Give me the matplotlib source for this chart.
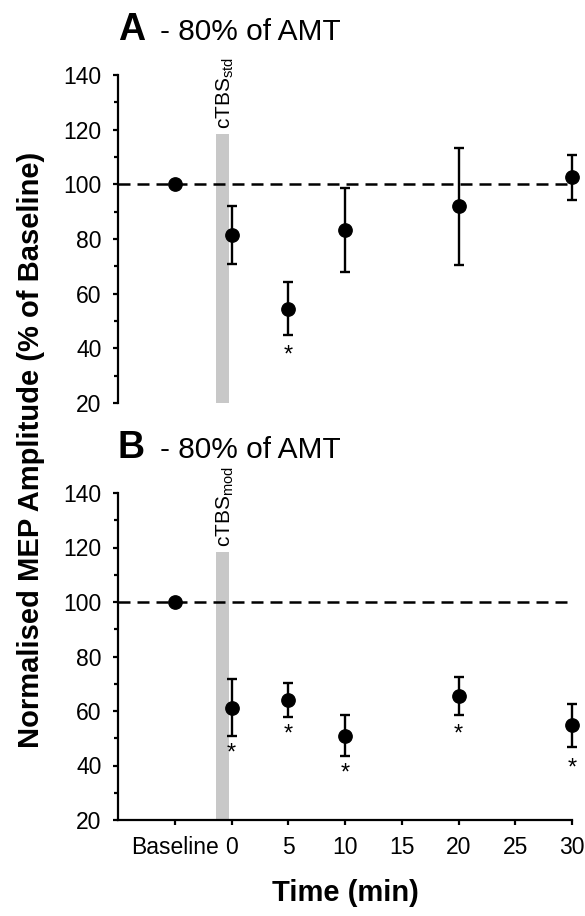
import matplotlib
matplotlib.use("Agg")
import matplotlib.pyplot as plt

plt.rcParams['font.family'] = ['Liberation Sans', 'DejaVu Sans']

# time points (baseline drawn at -5 on the time axis)
times = [-5, 0, 5, 10, 20, 30]
tick_pos = [-5, 0, 5, 10, 15, 20, 25, 30]
tick_labels = ['Baseline', '0', '5', '10', '15', '20', '25', '30']

# panel A - cTBS std
a_mean = [100, 81.5, 54.5, 83.4, 92.0, 102.6]
a_err = [0, 10.5, 9.8, 15.3, 21.4, 8.3]
a_star_t = [5]
a_star_y = [37.3]

# panel B - cTBS mod
b_mean = [100, 61.2, 64.1, 51.0, 65.6, 54.7]
b_err = [0, 10.5, 6.3, 7.6, 6.9, 8.0]
b_star_t = [0, 5, 10, 20, 30]
b_star_y = [44.3, 51.4, 37.2, 51.4, 38.8]

bar_left, bar_right, bar_top = -1.4, -0.2, 118.5

W, H = 585, 916


def draw_panel(ax, mean, err, star_t, star_y, letter, cond, show_x):
    ax.bar((bar_left + bar_right) / 2, bar_top - 20, bottom=20,
           width=bar_right - bar_left, color='#c8c8c8', zorder=1)
    ax.plot([-10, 30], [100, 100], color='black', lw=1.8,
            dashes=(4.8, 2.8), zorder=2)
    ax.errorbar(times, mean, yerr=err, fmt='o', color='black', ms=9.6,
                elinewidth=1.7, capsize=3.8, capthick=1.7, zorder=3,
                clip_on=False)
    for t, y in zip(star_t, star_y):
        ax.text(t, y, '*', ha='center', va='center', fontsize=17)

    ax.text(-0.5, 120.3, r'$\mathregular{cTBS_{' + cond + '}}$',
            rotation=90, ha='center', va='bottom', fontsize=15)

    ax.set_xlim(-10, 30)
    ax.set_ylim(20, 140)
    ax.set_yticks(range(20, 141, 20))
    ax.set_yticks(range(30, 140, 20), minor=True)
    ax.spines['top'].set_visible(False)
    ax.spines['right'].set_visible(False)
    ax.spines['left'].set_linewidth(1.6)
    ax.tick_params(axis='y', which='major', length=3.8, width=1.6,
                   labelsize=16.5, pad=8)
    ax.tick_params(axis='y', which='minor', length=2.7, width=1.6)

    if show_x:
        ax.spines['bottom'].set_linewidth(1.6)
        ax.set_xticks(tick_pos)
        ax.set_xticklabels(tick_labels)
        ax.tick_params(axis='x', length=3.8, width=1.6, labelsize=16.5, pad=8)
        ax.set_xlabel('Time (min)', fontsize=21, fontweight='bold',
                      labelpad=14)
    else:
        ax.spines['bottom'].set_visible(False)
        ax.set_xticks([])

    ax.text(0, 1.107, letter, transform=ax.transAxes, fontsize=27,
            fontweight='bold', ha='left', va='baseline')
    ax.text(0.0926, 1.107, '- 80% of AMT', transform=ax.transAxes,
            fontsize=21.5, ha='left', va='baseline')


if __name__ == "__main__":
    fig = plt.figure(figsize=(W / 100, H / 100), dpi=100)
    left, width = 118 / W, (572 - 118) / W
    ax_a = fig.add_axes([left, 1 - 403 / H, width, (403 - 75) / H])
    ax_b = fig.add_axes([left, 1 - 820 / H, width, (820 - 493) / H])

    draw_panel(ax_a, a_mean, a_err, a_star_t, a_star_y, 'A', 'std', False)
    draw_panel(ax_b, b_mean, b_err, b_star_t, b_star_y, 'B', 'mod', True)

    fig.text(31 / W, 1 - 450 / H, 'Normalised MEP Amplitude (% of Baseline)',
             rotation=90, ha='center', va='center', fontsize=21,
             fontweight='bold')

    fig.savefig('out.png', dpi=100)
